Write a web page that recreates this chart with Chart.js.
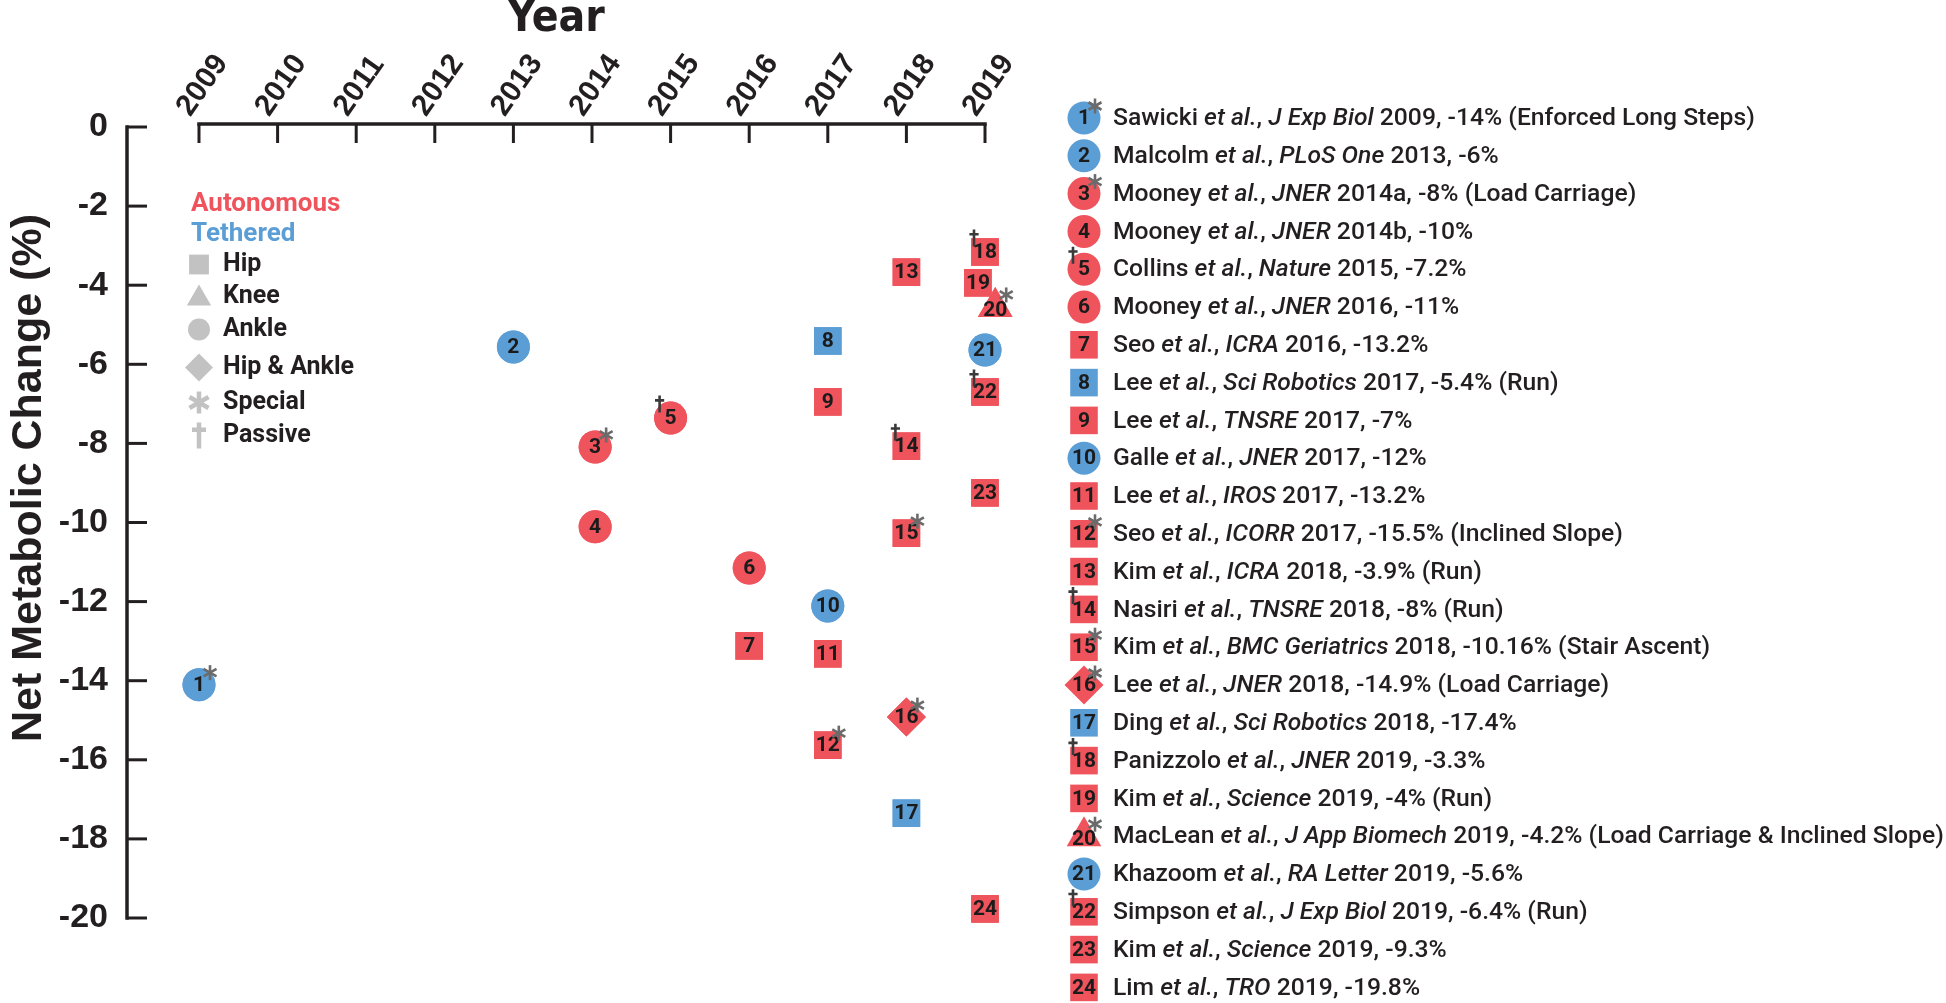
<!DOCTYPE html>
<html><head><meta charset="utf-8">
<script src="https://cdn.jsdelivr.net/npm/chart.js@4/dist/chart.umd.min.js"></script>
<style>html,body{margin:0;padding:0;background:#fff;}#wrap{position:relative;width:1946px;height:1003px;}</style>
</head><body><div id="wrap"><canvas id="c" width="1946" height="1003"></canvas></div>
<script>
// ---------- data ----------
const yearTicks = [2009, 2010, 2011, 2012, 2013, 2014, 2015, 2016, 2017, 2018, 2019];
const valueTicks = [0, -2, -4, -6, -8, -10, -12, -14, -16, -18, -20];
const studyIds = [1,2,3,4,5,6,7,8,9,10,11,12,13,14,15,16,17,18,19,20,21,22,23,24];
const studyYears = [2009, 2013, 2014.04, 2014.04, 2015, 2016, 2016, 2017, 2017, 2017, 2017, 2017, 2018, 2018, 2018, 2018, 2018, 2019, 2018.91, 2019.13, 2019, 2019, 2019, 2019];
const metabolicChange = [-14.1, -5.56, -8.09, -10.11, -7.36, -11.15, -13.12, -5.41, -6.95, -12.11, -13.32, -15.63, -3.67, -8.07, -10.27, -14.92, -17.35, -3.16, -3.94, -4.55, -5.64, -6.7, -9.25, -19.77];
const jointTypes = ['Ankle','Ankle','Ankle','Ankle','Ankle','Ankle','Hip','Hip','Hip','Ankle','Hip','Hip','Hip','Hip','Hip','Hip & Ankle','Hip','Hip','Hip','Knee','Ankle','Hip','Hip','Hip'];
const deviceTypes = ['Tethered','Tethered','Autonomous','Autonomous','Autonomous','Autonomous','Autonomous','Tethered','Autonomous','Tethered','Autonomous','Autonomous','Autonomous','Autonomous','Autonomous','Autonomous','Tethered','Autonomous','Autonomous','Autonomous','Tethered','Autonomous','Autonomous','Autonomous'];
const extraMarks = ['Special','','Special','','Passive','','','','','','','Special','','Passive','Special','Special','','Passive','','Special','','Passive','',''];
const authors = ['Sawicki','Malcolm','Mooney','Mooney','Collins','Mooney','Seo','Lee','Lee','Galle','Lee','Seo','Kim','Nasiri','Kim','Lee','Ding','Panizzolo','Kim','MacLean','Khazoom','Simpson','Kim','Lim'];
const journals = ['J Exp Biol','PLoS One','JNER','JNER','Nature','JNER','ICRA','Sci Robotics','TNSRE','JNER','IROS','ICORR','ICRA','TNSRE','BMC Geriatrics','JNER','Sci Robotics','JNER','Science','J App Biomech','RA Letter','J Exp Biol','Science','TRO'];
const pubLabels = ['2009','2013','2014a','2014b','2015','2016','2016','2017','2017','2017','2017','2017','2018','2018','2018','2018','2018','2019','2019','2019','2019','2019','2019','2019'];
const reportedPct = ['-14%','-6%','-8%','-10%','-7.2%','-11%','-13.2%','-5.4%','-7%','-12%','-13.2%','-15.5%','-3.9%','-8%','-10.16%','-14.9%','-17.4%','-3.3%','-4%','-4.2%','-5.6%','-6.4%','-9.3%','-19.8%'];
const notes = ['Enforced Long Steps','','Load Carriage','','','','','Run','','','','Inclined Slope','Run','Run','Stair Ascent','Load Carriage','','','Run','Load Carriage & Inclined Slope','','Run','',''];
const deviceLegend = ['Autonomous','Tethered'];
const jointLegend = ['Hip','Knee','Ankle','Hip & Ankle'];
const markLegend = ['Special','Passive'];

// ---------- styles ----------
const colorOf = {Autonomous:'#EF535C', Tethered:'#5B9ED6'};
const styleOf = {'Hip':'rect','Knee':'triangle','Ankle':'circle','Hip & Ankle':'rectRot'};
const radiusOf = {'Hip':19.5,'Knee':20,'Ankle':16.5,'Hip & Ankle':19.5};
const smallRadiusOf = {'Hip':14,'Knee':14,'Ankle':11,'Hip & Ankle':14};
const INK = '#231f20';
const GREY = '#c2c2c2';

function drawShape(ctx, style, r, x, y, color){
  ctx.save();
  ctx.fillStyle = color;
  Chart.helpers.drawPoint(ctx, {pointStyle: style, radius: r, rotation: 0, borderWidth: 0}, x, y);
  ctx.restore();
}
function drawAsterisk(ctx, x, y, len, color, lw){
  ctx.save(); ctx.strokeStyle = color; ctx.lineWidth = lw;
  for (let k = 0; k < 3; k++){
    const a = Math.PI/2 + k*Math.PI/3;
    ctx.beginPath();
    ctx.moveTo(x + Math.cos(a)*len, y + Math.sin(a)*len);
    ctx.lineTo(x - Math.cos(a)*len, y - Math.sin(a)*len);
    ctx.stroke();
  }
  ctx.restore();
}
function drawDagger(ctx, x, y, h, color, lw){
  ctx.save(); ctx.strokeStyle = color; ctx.lineWidth = lw;
  ctx.beginPath();
  ctx.moveTo(x, y - h/2); ctx.lineTo(x, y + h/2);
  ctx.moveTo(x - h*0.27, y - h*0.22); ctx.lineTo(x + h*0.27, y - h*0.22);
  ctx.stroke();
  ctx.restore();
}
function drawBadge(ctx, i, x, y){
  const j = jointTypes[i];
  drawShape(ctx, styleOf[j], radiusOf[j], x, y, colorOf[deviceTypes[i]]);
  ctx.save();
  ctx.fillStyle = '#1b1b1b';
  ctx.font = 'bold 21px Roboto';
  ctx.textAlign = 'center'; ctx.textBaseline = 'middle';
  ctx.fillText(String(studyIds[i]), x, y + (j === 'Knee' ? 4 : 1));
  ctx.restore();
  if (extraMarks[i] === 'Special') drawAsterisk(ctx, x + 11, y - 12, 7.5, '#6b6b6b', 2.6);
  if (extraMarks[i] === 'Passive') drawDagger(ctx, x - 11, y - 14, 17, '#3a3a3a', 2.6);
}

const decor = {
  id: 'decor',
  beforeDatasetsDraw(chart){
    const ctx = chart.ctx, xs = chart.scales.x, ys = chart.scales.y;
    ctx.save();
    ctx.strokeStyle = INK; ctx.lineWidth = 3.5; ctx.lineCap = 'butt';
    const axisY = ys.top - 3;
    const x0 = xs.getPixelForValue(yearTicks[0]), x1 = xs.getPixelForValue(yearTicks[yearTicks.length-1]);
    ctx.beginPath(); ctx.moveTo(x0 - 1.75, axisY); ctx.lineTo(x1 + 1.75, axisY); ctx.stroke();
    ctx.lineWidth = 3;
    yearTicks.forEach(v => { const px = xs.getPixelForValue(v); ctx.beginPath(); ctx.moveTo(px, axisY); ctx.lineTo(px, axisY + 19); ctx.stroke(); });
    const ax = xs.left;
    ctx.lineWidth = 3.5;
    ctx.beginPath(); ctx.moveTo(ax, ys.getPixelForValue(valueTicks[0]) - 1.75); ctx.lineTo(ax, ys.getPixelForValue(valueTicks[valueTicks.length-1]) + 1.75); ctx.stroke();
    ctx.lineWidth = 3;
    valueTicks.forEach(v => { const py = ys.getPixelForValue(v); ctx.beginPath(); ctx.moveTo(ax, py); ctx.lineTo(ax + 20, py); ctx.stroke(); });
    ctx.restore();

    // y axis title
    ctx.save();
    ctx.translate(29, 478); ctx.rotate(-Math.PI/2);
    ctx.fillStyle = INK;
    ctx.font = 'bold 43px "Liberation Sans", Arial, sans-serif';
    ctx.textAlign = 'center'; ctx.textBaseline = 'middle';
    ctx.fillText('Net Metabolic Change (%)', 0, 0);
    ctx.restore();

    // inner legend
    ctx.save();
    ctx.textBaseline = 'middle'; ctx.textAlign = 'left';
    const rowsY = [204.5, 234.5, 264.5, 296.5, 329.5, 367.5, 402.5, 435.5];
    ctx.font = 'bold 26px Roboto';
    deviceLegend.forEach((d, k) => { ctx.fillStyle = colorOf[d]; ctx.fillText(d, 191, rowsY[k]); });
    ctx.font = 'bold 25px Roboto';
    jointLegend.forEach((j, k) => {
      const y = rowsY[2 + k];
      drawShape(ctx, styleOf[j], smallRadiusOf[j], 199, y + (j === 'Knee' ? 2 : 0), GREY);
      ctx.fillStyle = INK; ctx.fillText(j, 223, y);
    });
    drawAsterisk(ctx, 199, rowsY[6], 11, GREY, 4.5);
    ctx.fillStyle = INK; ctx.fillText(markLegend[0], 223, rowsY[6]);
    drawDagger(ctx, 199, rowsY[7], 26, GREY, 4.5);
    ctx.fillStyle = INK; ctx.fillText(markLegend[1], 223, rowsY[7]);
    ctx.restore();

    // reference list legend
    const lgX = 1084, lgTextX = 1113, lgTop = 118, lgStep = 37.8;
    ctx.save();
    ctx.textBaseline = 'middle'; ctx.textAlign = 'left'; ctx.fillStyle = INK;
    studyIds.forEach((id, i) => {
      const y = lgTop + i*lgStep;
      drawBadge(ctx, i, lgX, y);
      const segs = [
        [authors[i] + ' ', false], ['et al.', true], [', ', false], [journals[i], true],
        [' ' + pubLabels[i] + ', ' + reportedPct[i] + (notes[i] ? ' (' + notes[i] + ')' : ''), false]
      ];
      let tx = lgTextX;
      ctx.fillStyle = INK;
      segs.forEach(([t, it]) => {
        ctx.font = (it ? 'italic ' : '') + '500 24.7px Roboto';
        ctx.fillText(t, tx, y + 1);
        tx += ctx.measureText(t).width;
      });
    });
    ctx.restore();
  },
  afterDatasetsDraw(chart){
    const ctx = chart.ctx;
    const meta = chart.getDatasetMeta(0);
    meta.data.forEach((pt, i) => drawBadge(ctx, i, pt.x, pt.y));
  }
};

function make(){
  new Chart(document.getElementById('c'), {
    type: 'scatter',
    data: { datasets: [{
      label: 'Studies',
      data: studyYears.map((x, i) => ({x, y: metabolicChange[i]})),
      pointStyle: jointTypes.map(j => styleOf[j]),
      pointRadius: jointTypes.map(j => radiusOf[j]),
      backgroundColor: deviceTypes.map(d => colorOf[d]),
      borderWidth: 0,
      pointBorderWidth: 0,
      clip: false
    }]},
    options: {
      responsive: false,
      animation: false,
      events: [],
      layout: { padding: { left: 0, top: 0, right: 961, bottom: 85 } },
      plugins: { legend: { display: false }, tooltip: { enabled: false } },
      scales: {
        x: {
          type: 'linear', position: 'top',
          min: 2008.084, max: 2019,
          afterBuildTicks: s => { s.ticks = yearTicks.map(v => ({value: v})); },
          afterFit: s => { s.height = 127; },
          grid: { display: false, drawTicks: false },
          border: { display: false },
          ticks: {
            autoSkip: false, minRotation: 55, maxRotation: 55, padding: 4, labelOffset: 14,
            color: INK,
            font: { family: '"Liberation Sans", Arial, sans-serif', weight: 'bold', size: 30 },
            callback: v => String(v)
          },
          title: {
            display: true, text: 'Year', color: INK, padding: { top: 0, bottom: 0 },
            font: { family: '"DejaVu Sans Condensed", "Liberation Sans", sans-serif', weight: 'bold', size: 44, lineHeight: 0.9 }
          }
        },
        y: {
          type: 'linear', position: 'left',
          min: -20, max: 0,
          afterBuildTicks: s => { s.ticks = valueTicks.map(v => ({value: v})); },
          afterFit: s => { s.width = 127; },
          grid: { display: false, drawTicks: false },
          border: { display: false },
          ticks: {
            padding: 19, color: INK,
            font: { family: '"Liberation Sans", Arial, sans-serif', weight: 'bold', size: 34 },
            callback: v => String(v)
          }
        }
      }
    },
    plugins: [decor]
  });
}
const fontsToLoad = ['bold 21px Roboto', '500 24.7px Roboto', 'italic 500 24.7px Roboto', 'bold 25px Roboto', 'bold 43px "Liberation Sans"', 'bold 44px "DejaVu Sans Condensed"'];
Promise.all(fontsToLoad.map(f => document.fonts.load(f))).then(make, make);
</script>
</body></html>
